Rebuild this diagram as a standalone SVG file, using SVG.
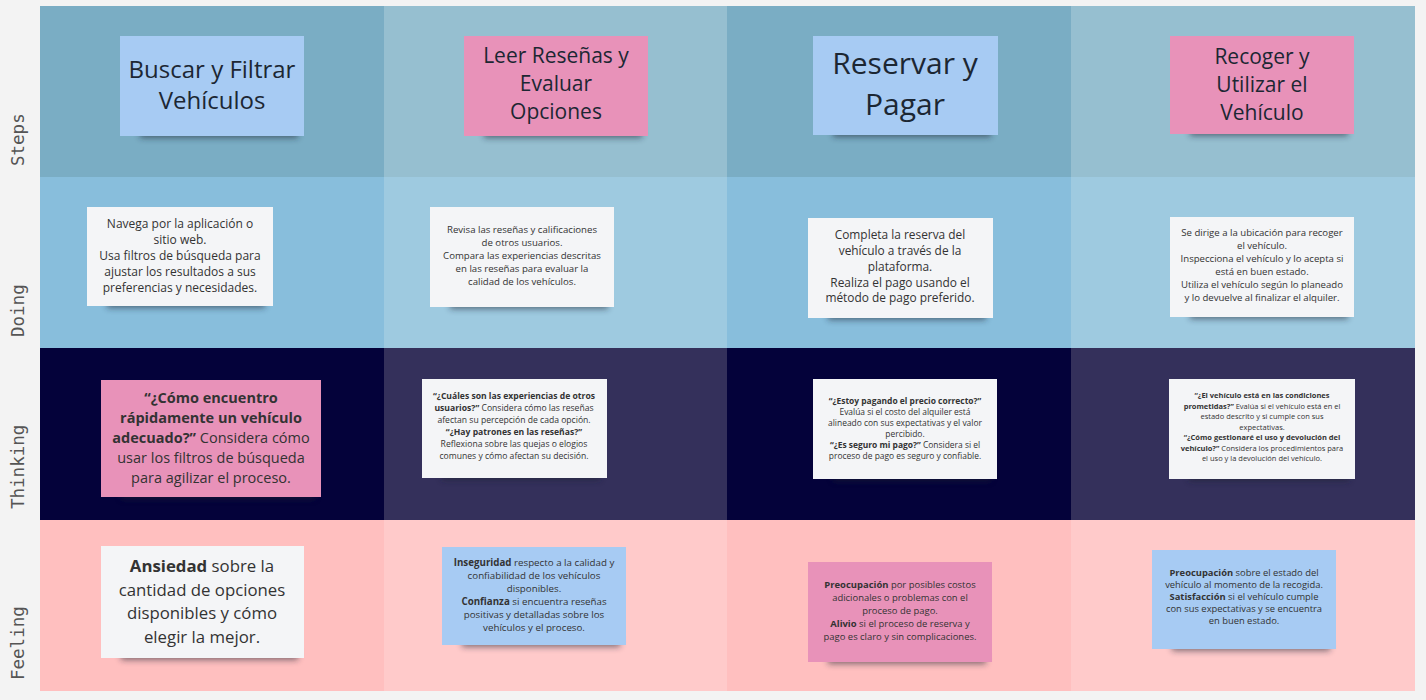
<svg xmlns="http://www.w3.org/2000/svg" width="1426" height="700" viewBox="0 0 1426 700">
<style>
.lbl{font-family:"DejaVu Sans Mono","Liberation Mono",monospace;font-size:17.5px;fill:#555}
.t{font-family:"Open Sans","Noto Sans",sans-serif;fill:#333;text-anchor:middle}
.h{font-family:"Open Sans","Noto Sans",sans-serif;fill:#1c2733;text-anchor:middle}
.b{font-weight:bold}
.blue{fill:#a7cbf3}
.pink{fill:#e892b9}
.white{fill:#f4f5f7}
.sh{fill:#1a2030;opacity:0.55;filter:url(#blur)}
</style>
<defs>
<filter id="blur" x="-20%" y="-200%" width="140%" height="500%"><feGaussianBlur stdDeviation="3"/></filter>
</defs>
<rect width="1426" height="700" fill="#f3f3f3"/>
<g id="grid">
<rect x="40" y="6" width="344" height="171" fill="#7aadc4"/>
<rect x="384" y="6" width="343" height="171" fill="#96bfd0"/>
<rect x="727" y="6" width="344" height="171" fill="#7aadc4"/>
<rect x="1071" y="6" width="344" height="171" fill="#96bfd0"/>
<rect x="40" y="177" width="344" height="171" fill="#88bedc"/>
<rect x="384" y="177" width="343" height="171" fill="#9ecae0"/>
<rect x="727" y="177" width="344" height="171" fill="#88bedc"/>
<rect x="1071" y="177" width="344" height="171" fill="#9ecae0"/>
<rect x="40" y="348" width="344" height="172" fill="#04023a"/>
<rect x="384" y="348" width="343" height="172" fill="#34305b"/>
<rect x="727" y="348" width="344" height="172" fill="#04023a"/>
<rect x="1071" y="348" width="344" height="172" fill="#34305b"/>
<rect x="40" y="520" width="344" height="171" fill="#ffbfbf"/>
<rect x="384" y="520" width="343" height="171" fill="#ffcaca"/>
<rect x="727" y="520" width="344" height="171" fill="#ffbfbf"/>
<rect x="1071" y="520" width="344" height="171" fill="#ffcaca"/>
</g>
<g id="row-labels">
<text class="lbl" transform="translate(24,166) rotate(-90)">Steps</text>
<text class="lbl" transform="translate(24,337) rotate(-90)">Doing</text>
<text class="lbl" transform="translate(24,509) rotate(-90)">Thinking</text>
<text class="lbl" transform="translate(24,680) rotate(-90)">Feeling</text>
</g>
<g id="connectors"/>

<g id="step-1">
<rect class="sh" x="140" y="128" width="158" height="10"/>
<rect class="blue" x="120" y="36" width="184" height="100"/>
<text class="h" font-size="24"><tspan x="212" y="78">Buscar y Filtrar</tspan><tspan x="212" y="109">Vehículos</tspan></text>
</g>
<g id="step-2">
<rect class="sh" x="484" y="128" width="158" height="10"/>
<rect class="pink" x="464" y="36" width="184" height="100"/>
<text class="h" font-size="21"><tspan x="556" y="63">Leer Reseñas y</tspan><tspan x="556" y="91">Evaluar</tspan><tspan x="556" y="119">Opciones</tspan></text>
</g>
<g id="step-3">
<rect class="sh" x="833" y="127" width="158" height="10"/>
<rect class="blue" x="813" y="36" width="185" height="99"/>
<text class="h" font-size="30"><tspan x="905" y="74">Reservar y</tspan><tspan x="905" y="115">Pagar</tspan></text>
</g>
<g id="step-4">
<rect class="sh" x="1190" y="126" width="158" height="10"/>
<rect class="pink" x="1170" y="36" width="184" height="98"/>
<text class="h" font-size="21"><tspan x="1262" y="64">Recoger y</tspan><tspan x="1262" y="92">Utilizar el</tspan><tspan x="1262" y="120">Vehículo</tspan></text>
</g>

<g id="doing-1">
<rect class="sh" x="107" y="298" width="158" height="10"/>
<rect class="white" x="87" y="207" width="186" height="99"/>
<text class="t" font-size="12"><tspan x="180" y="228">Navega por la aplicación o</tspan><tspan x="180" y="244">sitio web.</tspan><tspan x="180" y="260">Usa filtros de búsqueda para</tspan><tspan x="180" y="276">ajustar los resultados a sus</tspan><tspan x="180" y="292">preferencias y necesidades.</tspan></text>
</g>
<g id="doing-2">
<rect class="sh" x="450" y="299" width="158" height="10"/>
<rect class="white" x="430" y="207" width="184" height="100"/>
<text class="t" font-size="9.65"><tspan x="522" y="233">Revisa las reseñas y calificaciones</tspan><tspan x="522" y="246">de otros usuarios.</tspan><tspan x="522" y="259">Compara las experiencias descritas</tspan><tspan x="522" y="272">en las reseñas para evaluar la</tspan><tspan x="522" y="285">calidad de los vehículos.</tspan></text>
</g>
<g id="doing-3">
<rect class="sh" x="828" y="310" width="158" height="10"/>
<rect class="white" x="808" y="218" width="185" height="100"/>
<text class="t" font-size="11.9"><tspan x="900" y="239">Completa la reserva del</tspan><tspan x="900" y="255">vehículo a través de la</tspan><tspan x="900" y="271">plataforma.</tspan><tspan x="900" y="287">Realiza el pago usando el</tspan><tspan x="900" y="302">método de pago preferido.</tspan></text>
</g>
<g id="doing-4">
<rect class="sh" x="1190" y="309" width="158" height="10"/>
<rect class="white" x="1170" y="217" width="184" height="100"/>
<text class="t" font-size="9.6"><tspan x="1262" y="236">Se dirige a la ubicación para recoger</tspan><tspan x="1262" y="249">el vehículo.</tspan><tspan x="1262" y="262">Inspecciona el vehículo y lo acepta si</tspan><tspan x="1262" y="275">está en buen estado.</tspan><tspan x="1262" y="288">Utiliza el vehículo según lo planeado</tspan><tspan x="1262" y="301">y lo devuelve al finalizar el alquiler.</tspan></text>
</g>

<g id="thinking-1">
<rect class="sh" x="121" y="489" width="194" height="10"/>
<rect class="pink" x="101" y="380" width="220" height="117"/>
<text class="t" font-size="14.5"><tspan x="211" y="403" class="b">“¿Cómo encuentro</tspan><tspan x="211" y="423" class="b">rápidamente un vehículo</tspan><tspan x="211" y="443"><tspan class="b">adecuado?”</tspan> Considera cómo</tspan><tspan x="211" y="463">usar los filtros de búsqueda</tspan><tspan x="211" y="483">para agilizar el proceso.</tspan></text>
</g>
<g id="thinking-2">
<rect class="sh" x="442" y="470" width="158" height="10"/>
<rect class="white" x="422" y="379" width="185" height="99"/>
<text class="t" font-size="8.6"><tspan x="514" y="399" class="b">“¿Cuáles son las experiencias de otros</tspan><tspan x="514" y="411"><tspan class="b">usuarios?”</tspan> Considera cómo las reseñas</tspan><tspan x="514" y="423">afectan su percepción de cada opción.</tspan><tspan x="514" y="435" class="b">“¿Hay patrones en las reseñas?”</tspan><tspan x="514" y="447">Reflexiona sobre las quejas o elogios</tspan><tspan x="514" y="459">comunes y cómo afectan su decisión.</tspan></text>
</g>
<g id="thinking-3">
<rect class="sh" x="833" y="471" width="158" height="10"/>
<rect class="white" x="813" y="379" width="184" height="100"/>
<text class="t" font-size="8.45"><tspan x="905" y="404" class="b">“¿Estoy pagando el precio correcto?”</tspan><tspan x="905" y="415">Evalúa si el costo del alquiler está</tspan><tspan x="905" y="426">alineado con sus expectativas y el valor</tspan><tspan x="905" y="437">percibido.</tspan><tspan x="905" y="448"><tspan class="b">“¿Es seguro mi pago?”</tspan> Considera si el</tspan><tspan x="905" y="459">proceso de pago es seguro y confiable.</tspan></text>
</g>
<g id="thinking-4">
<rect class="sh" x="1189" y="471" width="160" height="10"/>
<rect class="white" x="1169" y="379" width="186" height="100"/>
<text class="t" font-size="7.5"><tspan x="1262" y="398" class="b">“¿El vehículo está en las condiciones</tspan><tspan x="1262" y="408.5"><tspan class="b">prometidas?”</tspan> Evalúa si el vehículo está en el</tspan><tspan x="1262" y="419">estado descrito y si cumple con sus</tspan><tspan x="1262" y="429.5">expectativas.</tspan><tspan x="1262" y="440" class="b">“¿Cómo gestionaré el uso y devolución del</tspan><tspan x="1262" y="450.5"><tspan class="b">vehículo?”</tspan> Considera los procedimientos para</tspan><tspan x="1262" y="461">el uso y la devolución del vehículo.</tspan></text>
</g>

<g id="feeling-1">
<rect class="sh" x="121" y="649" width="177" height="11"/>
<rect class="white" x="101" y="546" width="203" height="112"/>
<text class="t" font-size="16.8"><tspan x="202" y="572"><tspan class="b">Ansiedad</tspan> sobre la</tspan><tspan x="202" y="595.5">cantidad de opciones</tspan><tspan x="202" y="619">disponibles y cómo</tspan><tspan x="202" y="642.5">elegir la mejor.</tspan></text>
</g>
<g id="feeling-2">
<rect class="sh" x="462" y="637" width="158" height="10"/>
<rect class="blue" x="442" y="547" width="184" height="98"/>
<text class="t" font-size="9.75"><tspan x="534" y="566"><tspan class="b">Inseguridad</tspan> respecto a la calidad y</tspan><tspan x="534" y="579">confiabilidad de los vehículos</tspan><tspan x="534" y="592">disponibles.</tspan><tspan x="534" y="605"><tspan class="b">Confianza</tspan> si encuentra reseñas</tspan><tspan x="534" y="618">positivas y detalladas sobre los</tspan><tspan x="534" y="631">vehículos y el proceso.</tspan></text>
</g>
<g id="feeling-3">
<rect class="sh" x="828" y="654" width="158" height="10"/>
<rect class="pink" x="808" y="562" width="184" height="100"/>
<text class="t" font-size="9.45"><tspan x="900" y="588"><tspan class="b">Preocupación</tspan> por posibles costos</tspan><tspan x="900" y="601">adicionales o problemas con el</tspan><tspan x="900" y="614">proceso de pago.</tspan><tspan x="900" y="627"><tspan class="b">Alivio</tspan> si el proceso de reserva y</tspan><tspan x="900" y="640">pago es claro y sin complicaciones.</tspan></text>
</g>
<g id="feeling-4">
<rect class="sh" x="1172" y="641" width="158" height="10"/>
<rect class="blue" x="1152" y="550" width="184" height="99"/>
<text class="t" font-size="9.4"><tspan x="1244" y="576"><tspan class="b">Preocupación</tspan> sobre el estado del</tspan><tspan x="1244" y="588">vehículo al momento de la recogida.</tspan><tspan x="1244" y="600"><tspan class="b">Satisfacción</tspan> si el vehículo cumple</tspan><tspan x="1244" y="612">con sus expectativas y se encuentra</tspan><tspan x="1244" y="624">en buen estado.</tspan></text>
</g>
</svg>
